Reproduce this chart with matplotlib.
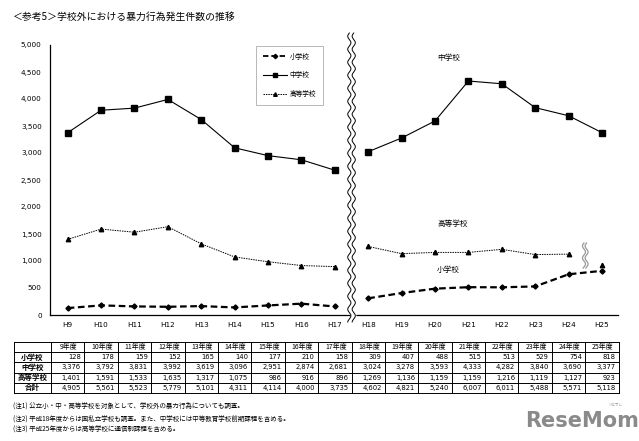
import matplotlib
matplotlib.use("Agg")
import matplotlib.pyplot as plt
import matplotlib.transforms as mtransforms
from matplotlib.lines import Line2D
import numpy as np

plt.rcParams['font.family'] = ['Noto Sans CJK JP', 'DejaVu Sans']

# ---------------- data ----------------
years_x = ["H9", "H10", "H11", "H12", "H13", "H14", "H15", "H16", "H17",
           "H18", "H19", "H20", "H21", "H22", "H23", "H24", "H25"]
years_tbl = ["9年度", "10年度", "11年度", "12年度", "13年度", "14年度", "15年度", "16年度", "17年度",
             "18年度", "19年度", "20年度", "21年度", "22年度", "23年度", "24年度", "25年度"]
elem = [128, 178, 159, 152, 165, 140, 177, 210, 158, 309, 407, 488, 515, 513, 529, 754, 818]
junior = [3376, 3792, 3831, 3992, 3619, 3096, 2951, 2874, 2681, 3024, 3278, 3593, 4333, 4282, 3840, 3690, 3377]
high = [1401, 1591, 1533, 1635, 1317, 1075, 986, 916, 896, 1269, 1136, 1159, 1159, 1216, 1119, 1127, 923]
total = [4905, 5561, 5523, 5779, 5101, 4311, 4114, 4000, 3735, 4602, 4821, 5240, 6007, 6011, 5488, 5571, 5118]
series_names = ["小学校", "中学校", "高等学校"]
row_names = ["小学校", "中学校", "高等学校", "合計"]
yticks = [0, 500, 1000, 1500, 2000, 2500, 3000, 3500, 4000, 4500, 5000]
title = "＜参考5＞学校外における暴力行為発生件数の推移"
notes = ["(注1) 公立小・中・高等学校を対象として、学校外の暴力行為についても調査。",
         "(注2) 平成18年度からは国私立学校も調査。また、中学校には中等教育学校前期課程を含める。",
         "(注3) 平成25年度からは高等学校に通信制課程を含める。"]

W, H = 639, 441
fig = plt.figure(figsize=(W / 100, H / 100), dpi=100)
fig.patch.set_facecolor("white")

def fx(px):
    return px / W

def fy(py):
    return 1 - py / H

ax_l, ax_r, ax_t, ax_b = 50, 618, 45, 315
ax = fig.add_axes([fx(ax_l), fy(ax_b), fx(ax_r - ax_l), (ax_b - ax_t) / H])
x = np.arange(len(years_x))
ax.set_xlim(-0.53, 16.48)
ax.set_ylim(0, 5000)
for s in ["top", "right"]:
    ax.spines[s].set_visible(False)
for s in ["left", "bottom"]:
    ax.spines[s].set_linewidth(0.9)
ax.set_yticks(yticks)
ax.set_yticklabels([f"{v:,}" for v in yticks], fontsize=5.2, family="DejaVu Sans")
ax.set_xticks(x)
ax.set_xticklabels(years_x, fontsize=5.2, family="DejaVu Sans")
ax.tick_params(axis="y", length=0, pad=6)
ax.tick_params(axis="x", length=0, pad=5)

def seg(arr, a, b):
    return x[a:b], arr[a:b]

elem_kw = dict(color="black", lw=1.6, ls=(0, (3, 1.6)), marker="D", ms=2.6)
jun_kw = dict(color="black", lw=0.8, ls="-", marker="s", ms=4.2)
high_kw = dict(color="black", lw=0.7, ls=(0, (1.5, 1)), marker="^", ms=3.2)

for a, b in [(0, 9), (9, 17)]:
    ax.plot(*seg(elem, a, b), **elem_kw)
    ax.plot(*seg(junior, a, b), **jun_kw)
for a, b in [(0, 9), (9, 16), (16, 17)]:
    ax.plot(*seg(high, a, b), **high_kw)

# legend
leg_elem = dict(elem_kw, ms=2.2, lw=1.3)
leg_jun = dict(jun_kw, ms=3.2)
leg_high = dict(high_kw, ms=2.6)
handles = [Line2D([], [], **leg_elem), Line2D([], [], **leg_jun), Line2D([], [], **leg_high)]
leg = fig.legend(handles, series_names, loc="upper left",
                 bbox_to_anchor=(fx(256), fy(46)), fontsize=4.8, frameon=True,
                 fancybox=False, edgecolor="#999999", handlelength=3.6,
                 labelspacing=1.6, borderpad=1.0, handletextpad=0.4, borderaxespad=0)
leg.get_frame().set_linewidth(0.6)

# in-plot labels
ax.text(fx(437), fy(58), "中学校", transform=fig.transFigure, fontsize=5.5, va="center")
ax.text(fx(437), fy(224), "高等学校", transform=fig.transFigure, fontsize=5.5, va="center")
ax.text(fx(437), fy(270), "小学校", transform=fig.transFigure, fontsize=5.5, va="center")

# wavy break between H17 and H18
bt = mtransforms.blended_transform_factory(ax.transData, fig.transFigure)
yy = np.linspace(fy(33), fy(322), 400)
phase = (yy - yy[0]) * H / 13.0 * 2 * np.pi
xc = 8.5
amp = 1.6 / 33.4
sep = 2.2 / 33.4
wav = amp * np.sin(phase)
ax.fill_betweenx(yy, xc + wav - sep, xc + wav + sep, color="white", transform=bt,
                 clip_on=False, zorder=5)
ax.plot(xc + wav - sep, yy, color="black", lw=0.7, transform=bt, clip_on=False, zorder=6)
ax.plot(xc + wav + sep, yy, color="black", lw=0.7, transform=bt, clip_on=False, zorder=6)

# small break mark for high school between H24 and H25
yy2 = np.linspace(fy(243), fy(268), 100)
ph2 = (yy2 - yy2[0]) * H / 12.0 * 2 * np.pi
xc2 = 15.5
w2 = (1.5 / 33.4) * np.sin(ph2)
for off in (-1.3 / 33.4, 1.3 / 33.4):
    ax.plot(xc2 + w2 + off, yy2, color="#999999", lw=0.9, transform=bt, clip_on=False)

# title
fig.text(fx(13), fy(17), title, fontsize=7.1, va="center", ha="left")

# table
tb_top, row_h = 342, 10.2
tbl_left_px = 14
rows_vals = [elem, junior, high, total]
n_rows = 5
y_lines = [tb_top + i * row_h for i in range(n_rows + 1)]
bound = np.arange(len(x) + 1) - 0.5
lw_t = 0.7
first_col_right = ax.transData.transform((bound[0], 0))[0]
for yl in y_lines:
    ax.plot([bound[0], bound[-1]], [fy(yl), fy(yl)], color="black", lw=lw_t,
            transform=bt, clip_on=False)
    fig.add_artist(Line2D([fx(tbl_left_px), first_col_right / W],
                          [fy(yl), fy(yl)], color="black", lw=lw_t))
fig.add_artist(Line2D([fx(tbl_left_px), fx(tbl_left_px)], [fy(y_lines[0]), fy(y_lines[-1])],
                      color="black", lw=lw_t))
for bx in bound:
    ax.plot([bx, bx], [fy(y_lines[0]), fy(y_lines[-1])], color="black", lw=lw_t,
            transform=bt, clip_on=False)
label_cx = (tbl_left_px + first_col_right) / 2 / W
for i, lab in enumerate(years_tbl):
    ax.text(x[i] + 0.03, fy(y_lines[0] + row_h / 2), lab, transform=bt, fontsize=5.0,
            ha="center", va="center", clip_on=False)
for r, (name, vals) in enumerate(zip(row_names, rows_vals)):
    yc = fy(y_lines[r + 1] + row_h / 2)
    fig.text(label_cx, yc, name, fontsize=5.4, ha="center", va="center", fontweight="bold")
    for i, v in enumerate(vals):
        ax.text(x[i] + 0.40, yc, f"{v:,}", transform=bt, fontsize=4.9, ha="right",
                va="center", clip_on=False, family="DejaVu Sans")

# notes
for k, (t, py) in enumerate(zip(notes, [407, 418.5, 429.5])):
    fig.text(fx(13), fy(py), t, fontsize=4.7, ha="left", va="center")

# logo
fig.text(fx(582), fy(421), "ReseMom", fontsize=15, fontweight="bold", color="#8a8a8a",
         ha="center", va="center", family="DejaVu Sans")
fig.text(fx(615), fy(405), "リセマム", fontsize=2.5, color="#8a8a8a", ha="center", va="center")

fig.savefig("out.png", dpi=100, facecolor="white")
